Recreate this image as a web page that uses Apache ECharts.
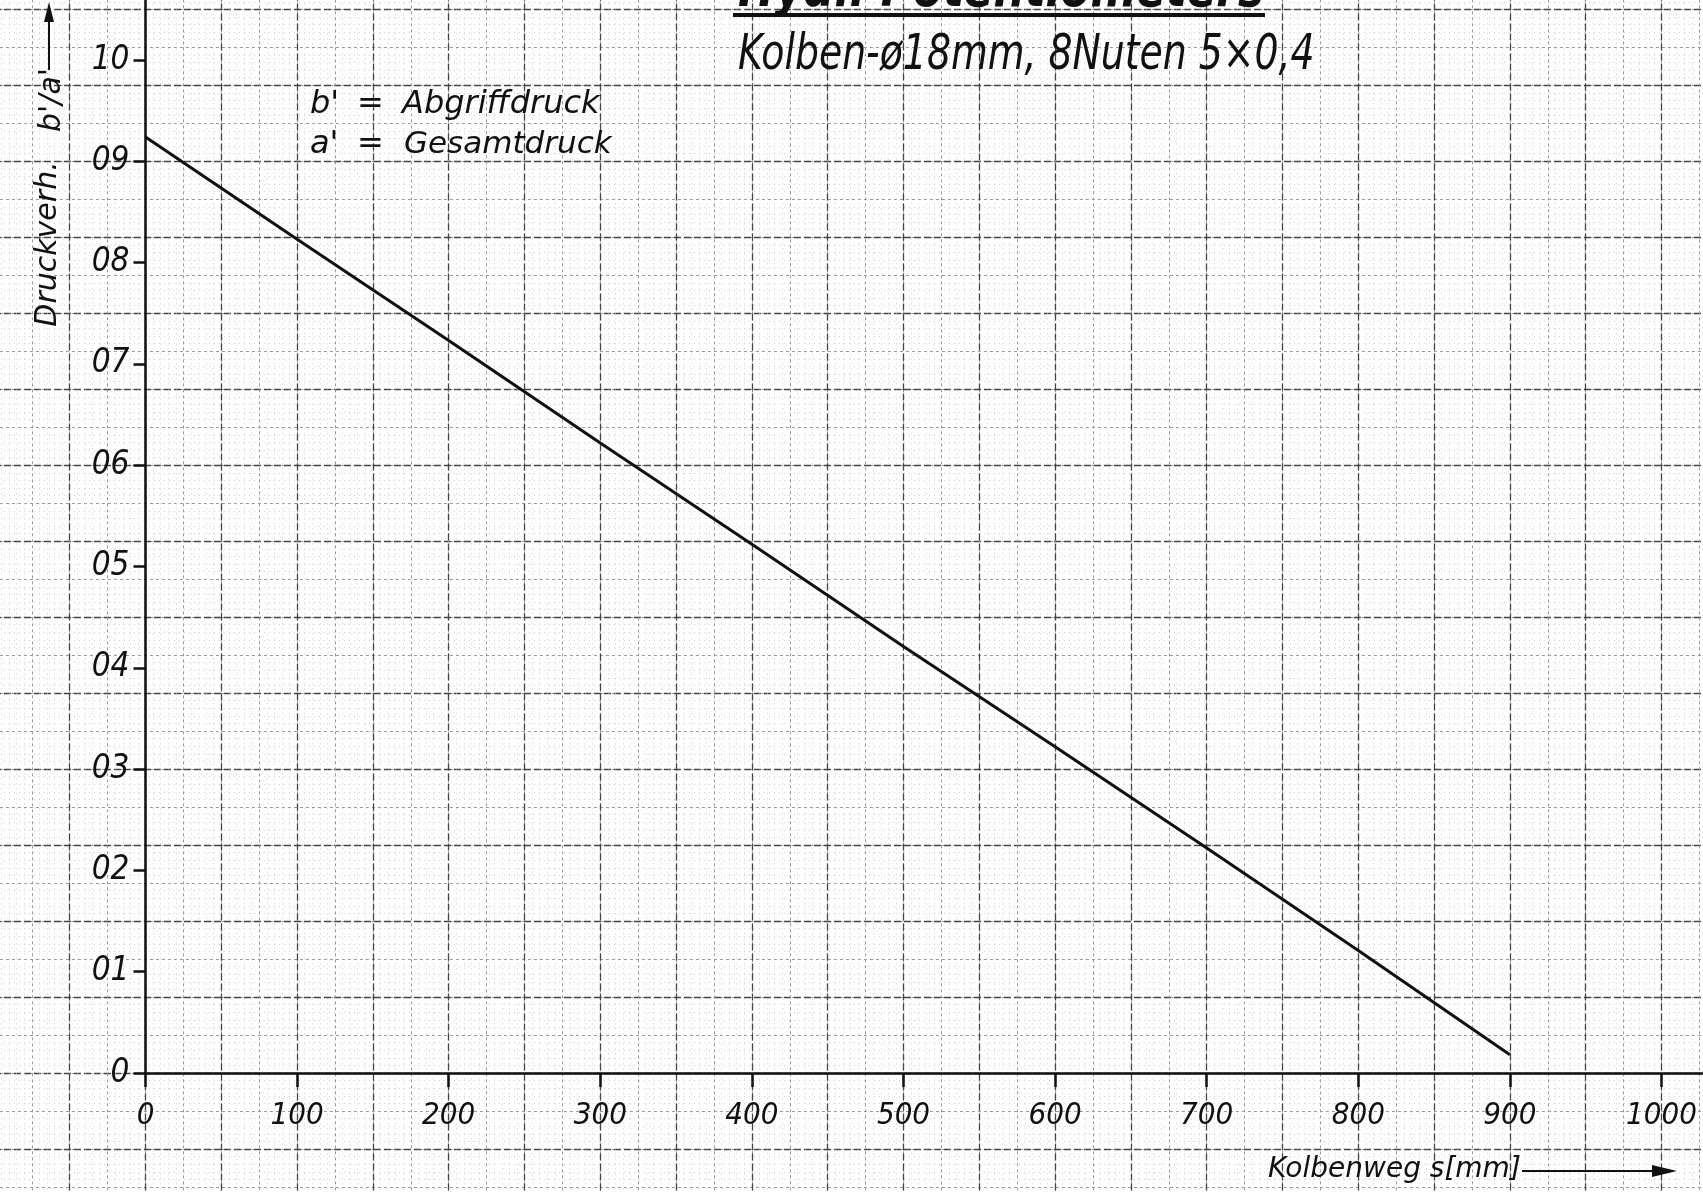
<!DOCTYPE html>
<html>
<head>
<meta charset="utf-8">
<script src="https://cdn.jsdelivr.net/npm/echarts@6/dist/echarts.min.js"></script>
<style>
html, body { margin: 0; padding: 0; background: #fff; }
#chart { width: 1703px; height: 1192px; }
</style>
</head>
<body>
<div id="chart"></div>
<script>
// Kolbenweg s [mm] und Druckverhaeltnis b'/a'
var strokeMm = [0, 100, 200, 300, 400, 500, 600, 700, 800, 900];
var pressureRatio = [0.924, 0.823, 0.723, 0.622, 0.522, 0.421, 0.322, 0.222, 0.121, 0.018];

var xTickLabels = ['0', '100', '200', '300', '400', '500', '600', '700', '800', '900', '1000'];
var yTickLabels = ['0', '01', '02', '03', '04', '05', '06', '07', '08', '09', '10'];

// pixel scale of the paper
var originX = 145.5, originY = 1073;
var pxPerMm = 1.516, pxPerUnit = 1013;

var narrow = "'DejaVu Sans Condensed', 'DejaVu Sans', sans-serif";
var plain = "'DejaVu Sans', sans-serif";
var ink = '#111';

var chart = echarts.init(document.getElementById('chart'));

var paperGrid = {
	left : originX - 100 * pxPerMm,
	top : originY - 1.125 * pxPerUnit,
	width : 1150 * pxPerMm,
	height : 1.275 * pxPerUnit,
	outerBoundsMode : 'none'
};

function paperAxis(grid, min, max, step, line, minorLine) {
	return {
		gridIndex : grid,
		type : 'value',
		min : min,
		max : max,
		interval : step,
		axisLine : { show : false },
		axisTick : { show : false },
		axisLabel : { show : false },
		splitLine : { show : true, lineStyle : line },
		minorTick : { show : false, splitNumber : 5 },
		minorSplitLine : { show : !!minorLine, lineStyle : minorLine || {} }
	};
}

var fineLine = { color : '#9a9a9a', width : 1, type : [3, 3] };
var dotLine = { color : '#cfcfcf', width : 1, type : [1, 4] };
var majorLine = { color : '#444', width : 1.3, type : [7, 3] };

var option = {
	backgroundColor : '#fff',
	animation : false,
	grid : [ paperGrid, paperGrid, {
		left : originX,
		top : originY - 1.1 * pxPerUnit,
		width : 1030 * pxPerMm,
		height : 1.1 * pxPerUnit,
		outerBoundsMode : 'none'
	} ],
	xAxis : [
		paperAxis(0, -100, 1050, 25, fineLine, dotLine),
		paperAxis(1, -100, 1050, 50, majorLine),
		{
			gridIndex : 2,
			type : 'value',
			min : 0,
			max : 1030,
			interval : 100,
			z : 5,
			axisLine : { lineStyle : { color : ink, width : 2.5 } },
			axisTick : { length : 14, lineStyle : { color : ink, width : 2.5 } },
			splitLine : { show : false },
			axisLabel : {
				margin : 27,
				color : ink,
				fontSize : 31,
				fontStyle : 'italic',
				fontFamily : narrow,
				formatter : function(v) {
					var i = Math.round(v / 100);
					return (Math.abs(v - i * 100) < 1e-6 && xTickLabels[i]) ? xTickLabels[i] : '';
				}
			}
		}
	],
	yAxis : [
		paperAxis(0, -0.15, 1.125, 0.0375, fineLine, dotLine),
		paperAxis(1, -0.15, 1.125, 0.075, majorLine),
		{
			gridIndex : 2,
			type : 'value',
			min : 0,
			max : 1.1,
			interval : 0.1,
			z : 5,
			axisLine : { lineStyle : { color : ink, width : 2.5 } },
			axisTick : { length : 12, lineStyle : { color : ink, width : 2.5 } },
			splitLine : { show : false },
			axisLabel : {
				margin : 16,
				color : ink,
				fontSize : 33,
				fontStyle : 'italic',
				fontFamily : narrow,
				formatter : function(v) {
					var i = Math.round(v * 10);
					return (Math.abs(v * 10 - i) < 1e-6 && yTickLabels[i]) ? yTickLabels[i] : '';
				}
			}
		}
	],
	series : [ {
		type : 'line',
		xAxisIndex : 2,
		yAxisIndex : 2,
		symbol : 'none',
		z : 6,
		lineStyle : { color : ink, width : 3 },
		data : strokeMm.map(function(s, i) { return [ s, pressureRatio[i] ]; })
	} ],
	graphic : [
		// title, cut off at the top edge of the sheet
		{ type : 'text', x : 738, y : 19, scaleX : 0.9, z : 10, style : { text : 'Hydr. Potentiometers', fill : ink,
			font : 'italic bold 54px ' + narrow, verticalAlign : 'bottom' } },
		{ type : 'rect', z : 10, shape : { x : 733, y : 13, width : 532, height : 4 }, style : { fill : ink } },
		{ type : 'text', x : 738, y : 56, scaleX : 0.84, z : 10, style : { text : 'Kolben-ø18mm, 8Nuten 5×0,4', fill : ink,
			font : 'italic 50px ' + narrow, verticalAlign : 'middle' } },
		// legend
		{ type : 'text', x : 310, y : 105, z : 10, style : { text : "b'", fill : ink, font : 'italic 32px ' + plain, verticalAlign : 'middle' } },
		{ type : 'text', x : 357, y : 105, z : 10, style : { text : '=', fill : ink, font : 'italic 32px ' + plain, verticalAlign : 'middle' } },
		{ type : 'text', x : 402, y : 105, z : 10, style : { text : 'Abgriffdruck', fill : ink, font : 'italic 32px ' + plain, verticalAlign : 'middle' } },
		{ type : 'text', x : 310, y : 145, z : 10, style : { text : "a'", fill : ink, font : 'italic 32px ' + plain, verticalAlign : 'middle' } },
		{ type : 'text', x : 357, y : 145, z : 10, style : { text : '=', fill : ink, font : 'italic 32px ' + plain, verticalAlign : 'middle' } },
		{ type : 'text', x : 404, y : 145, z : 10, style : { text : 'Gesamtdruck', fill : ink, font : 'italic 31px ' + plain, verticalAlign : 'middle' } },
		// y axis name with arrow
		{ type : 'text', x : 48, y : 244, rotation : Math.PI / 2, z : 10, style : { text : 'Druckverh.', fill : ink,
			font : 'italic 30px ' + plain, align : 'center', verticalAlign : 'middle' } },
		{ type : 'text', x : 52, y : 100, rotation : Math.PI / 2, z : 10, style : { text : "b'/a'", fill : ink,
			font : 'italic 30px ' + plain, align : 'center', verticalAlign : 'middle' } },
		{ type : 'line', z : 10, shape : { x1 : 49, y1 : 70, x2 : 49, y2 : 16 }, style : { stroke : ink, lineWidth : 2 } },
		{ type : 'polygon', z : 10, shape : { points : [ [ 49, 2 ], [ 44, 22 ], [ 54, 22 ] ] }, style : { fill : ink } },
		// x axis name with arrow
		{ type : 'text', x : 1268, y : 1170, z : 10, style : { text : 'Kolbenweg s[mm]', fill : ink,
			font : 'italic 28px ' + plain, verticalAlign : 'middle' } },
		{ type : 'line', z : 10, shape : { x1 : 1522, y1 : 1171, x2 : 1655, y2 : 1171 }, style : { stroke : ink, lineWidth : 2 } },
		{ type : 'polygon', z : 10, shape : { points : [ [ 1677, 1171 ], [ 1652, 1165 ], [ 1652, 1177 ] ] }, style : { fill : ink } }
	]
};
chart.setOption(option);
</script>
</body>
</html>
